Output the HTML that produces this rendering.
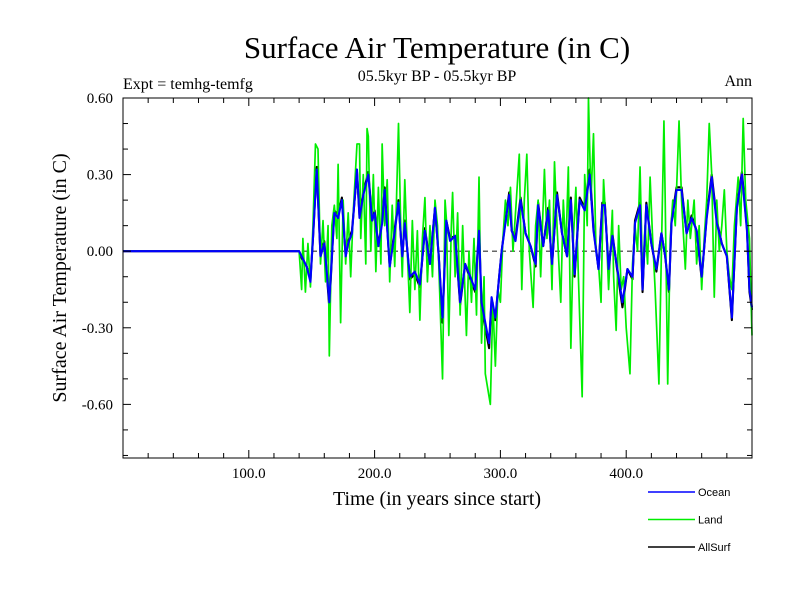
<!DOCTYPE html>
<html><head><meta charset="utf-8"><style>
body{margin:0;background:#fff}
svg{display:block}
.serif{font-family:"Liberation Serif",serif}
.sans{font-family:"Liberation Sans",sans-serif}
</style></head><body>
<svg id="chart" width="800" height="600" viewBox="0 0 800 600" xmlns="http://www.w3.org/2000/svg">
<rect width="800" height="600" fill="#fff"/>
<text class="serif" x="437" y="58" font-size="31" text-anchor="middle">Surface Air Temperature (in C)</text>
<text class="serif" x="437" y="81" font-size="16" text-anchor="middle">05.5kyr BP - 05.5kyr BP</text>
<text class="serif" x="123" y="89" font-size="16">Expt = temhg-temfg</text>
<text class="serif" x="752" y="86" font-size="16" text-anchor="end">Ann</text>
<text class="serif" font-size="20" text-anchor="middle" transform="translate(66,278) rotate(-90)">Surface Air Temperature (in C)</text>
<text class="serif" x="437" y="505" font-size="20" text-anchor="middle">Time (in years since start)</text>
<g id="plot"></g>
<g id="legend"></g>
</svg>
<script>
const yTickValues = [0.6, 0.3, 0, -0.3, -0.6];
const yTickLabels = ["0.60", "0.30", "0.00", "-0.30", "-0.60"];
const xTickValues = [100, 200, 300, 400];
const xTickLabels = ["100.0", "200.0", "300.0", "400.0"];
const oceanYears = [0,140,143,146,149,151,154,157,160,164,168,171,174,177,179,182,186,188,191,195,198,200,203,206,208,212,215,219,222,224,228,232,236,240,244,248,251,254,257,260,264,268,272,276,280,283,285,288,291,293,296,299,301,304,307,309,312,316,320,324,328,330,334,338,341,345,349,353,356,359,363,367,371,374,378,381,383,386,389,393,397,401,405,407,411,413,416,420,424,428,431,434,436,440,444,448,452,456,460,464,468,472,476,480,484,488,492,496,498,500];
const oceanValues = [0,0,-0.03,-0.06,-0.12,0.05,0.32,-0.02,0.03,-0.2,0.15,0.13,0.2,-0.02,0.03,0.07,0.32,0.13,0.22,0.3,0.12,0.15,0.02,0.11,0.24,-0.06,0.04,0.19,-0.02,0.11,-0.1,-0.08,-0.13,0.08,-0.05,0.17,-0.02,-0.26,0.12,0.04,0.06,-0.2,-0.05,-0.1,-0.15,0.08,-0.2,-0.28,-0.36,-0.18,-0.26,-0.1,0.0,0.11,0.22,0.08,0.04,0.2,0.07,0.02,-0.05,0.18,0.02,0.16,-0.05,0.22,0.07,-0.02,0.2,-0.09,0.2,0.16,0.3,0.08,-0.07,0.18,0.18,-0.07,0.06,-0.07,-0.2,-0.07,-0.1,0.11,0.18,-0.15,0.18,0.03,-0.07,0.07,-0.02,-0.15,0.11,0.24,0.24,0.07,0.13,0.08,-0.1,0.13,0.29,0.11,0.03,-0.02,-0.26,0.17,0.3,0.08,-0.15,-0.22];
const allSurfValues = [0,0,-0.04,-0.06,-0.11,0.05,0.33,-0.02,0.04,-0.22,0.16,0.14,0.21,-0.02,0.04,0.08,0.31,0.14,0.23,0.31,0.12,0.16,0.02,0.12,0.25,-0.06,0.05,0.2,-0.03,0.12,-0.11,-0.09,-0.14,0.09,-0.05,0.17,-0.02,-0.28,0.12,0.05,0.06,-0.21,-0.05,-0.11,-0.16,0.09,-0.22,-0.3,-0.38,-0.19,-0.27,-0.1,0.0,0.12,0.23,0.08,0.05,0.21,0.07,0.02,-0.06,0.19,0.02,0.17,-0.06,0.23,0.07,-0.02,0.21,-0.1,0.21,0.17,0.32,0.09,-0.07,0.19,0.19,-0.07,0.07,-0.08,-0.22,-0.07,-0.11,0.12,0.19,-0.16,0.19,0.03,-0.08,0.07,-0.02,-0.16,0.12,0.25,0.25,0.07,0.14,0.08,-0.11,0.14,0.3,0.12,0.03,-0.02,-0.27,0.18,0.31,0.09,-0.16,-0.23];
const landYears = [0,140,142,143,145,147,149,151,153,155,157,159,161,163,164,166,168,170,171,173,175,177,179,181,183,186,188,189,191,193,194,195,197,199,201,203,205,206,208,210,212,214,216,219,221,222,224,226,228,230,232,234,236,238,240,242,244,246,248,250,252,254,256,257,259,261,262,264,266,268,270,273,275,277,279,281,283,285,287,288,290,292,294,296,298,300,302,304,306,308,310,312,315,317,319,321,323,326,328,330,332,335,337,339,341,343,345,348,350,352,354,356,358,360,362,365,367,369,370,372,374,376,378,380,382,384,386,389,390,392,394,396,398,400,403,405,407,409,411,413,415,417,419,421,423,426,428,430,431,433,435,437,439,442,444,447,449,451,454,456,458,460,462,464,466,468,470,472,474,476,478,480,482,484,486,489,491,493,495,497,498,500];
const landValues = [0,0,-0.15,0.05,-0.16,0.03,-0.14,0.1,0.42,0.4,-0.05,0.12,-0.12,0.1,-0.41,0.1,0.18,0.05,0.34,-0.28,0.2,-0.05,0.15,-0.1,0.15,0.42,0.42,0.05,0.3,-0.05,0.48,0.45,0.0,0.3,-0.08,0.25,-0.05,0.42,0.1,0.28,-0.12,0.18,-0.06,0.5,0.05,-0.1,0.28,0.0,-0.24,0.12,-0.15,0.08,-0.27,0.05,0.21,-0.12,0.1,-0.1,0.2,0.1,-0.2,-0.5,0.2,0.13,-0.33,0.1,0.23,-0.1,0.15,-0.25,0.1,-0.33,0.0,-0.2,0.05,-0.25,0.29,-0.36,-0.1,-0.48,-0.54,-0.6,-0.2,-0.45,-0.15,-0.2,0.05,0.2,0.1,0.25,0.0,0.15,0.38,-0.15,0.2,0.38,0.0,-0.22,0.1,0.2,-0.1,0.32,0.05,0.2,-0.15,0.35,0.1,-0.2,0.2,0.0,0.33,-0.38,0.05,0.25,-0.1,-0.57,0.3,0.1,0.6,0.2,0.46,0.0,-0.05,-0.2,0.28,0.1,-0.15,0.16,-0.1,-0.31,0.1,-0.15,-0.1,-0.3,-0.48,-0.05,0.1,0.0,0.33,-0.1,0.1,-0.05,0.29,0.05,-0.15,-0.52,0.0,0.51,0.2,-0.52,0.05,0.2,0.1,0.51,0.2,-0.07,0.2,0.05,0.2,-0.05,0.1,-0.15,0.05,0.2,0.5,0.3,-0.18,0.2,0.0,0.1,0.24,0.0,-0.1,-0.15,0.1,0.29,0.1,0.52,0.2,0.1,0.05,-0.33];

const NS = "http://www.w3.org/2000/svg";
const L = 123, R = 752, T = 98, B = 458;
const xMin = 0, xMax = 500, yMin = -0.81, yMax = 0.6;
function xs(v){ return L + (v - xMin) / (xMax - xMin) * (R - L); }
function ys(v){ return T + (yMax - v) / (yMax - yMin) * (B - T); }
const plot = document.getElementById('plot');
const legend = document.getElementById('legend');
function mk(tag, attrs, parent){
  const e = document.createElementNS(NS, tag);
  for (const k in attrs) e.setAttribute(k, attrs[k]);
  parent.appendChild(e);
  return e;
}
function series(years, vals, color, w, name){
  let d = '';
  for (let i = 0; i < years.length; i++) d += (i ? 'L' : 'M') + xs(years[i]).toFixed(2) + ' ' + ys(vals[i]).toFixed(2);
  const p = mk('path', {d: d, fill: 'none', stroke: color, 'stroke-width': w, 'stroke-linejoin': 'round'}, plot);
  
  
}
const z = mk('line', {x1: L, x2: R, y1: ys(0), y2: ys(0), stroke: '#333', 'stroke-width': 1.2, 'stroke-dasharray': '5,4'}, plot);


series(oceanYears, allSurfValues, '#000', 2.1, 'allsurf-line');
series(landYears, landValues, '#00ee00', 1.7, 'land-line');
series(oceanYears, oceanValues, '#0000ff', 2.1, 'ocean-line');
const fr = mk('rect', {x: L, y: T, width: R - L, height: B - T, fill: 'none', stroke: '#000', 'stroke-width': 1}, plot);


for (let v = 20; v < 500; v += 20){
  const major = v % 100 === 0;
  const len = major ? 8 : 5;
  const x = xs(v);
  const t1 = mk('line', {x1: x, x2: x, y1: B, y2: B - len, stroke: '#000', 'stroke-width': 1}, plot);
  
  
  const t2 = mk('line', {x1: x, x2: x, y1: T, y2: T + len, stroke: '#000', 'stroke-width': 1}, plot);
  
  
}
xTickValues.forEach((v, i) => {
  const t = mk('text', {x: xs(v), y: 478, 'font-size': 15, 'text-anchor': 'middle', 'font-family': '"Liberation Serif", serif'}, plot);
  t.textContent = xTickLabels[i];
  
  
});
for (let k = -8; k <= 6; k++){
  const v = k / 10;
  const major = k % 3 === 0;
  const len = major ? 8 : 5;
  const y = ys(v);
  const t1 = mk('line', {x1: L, x2: L + len, y1: y, y2: y, stroke: '#000', 'stroke-width': 1}, plot);
  
  
  const t2 = mk('line', {x1: R, x2: R - len, y1: y, y2: y, stroke: '#000', 'stroke-width': 1}, plot);
  
  
}
yTickValues.forEach((v, i) => {
  const t = mk('text', {x: 113, y: ys(v) + 5, 'font-size': 15, 'text-anchor': 'end', 'font-family': '"Liberation Serif", serif'}, plot);
  t.textContent = yTickLabels[i];
  
  
});
const legNames = ['Ocean', 'Land', 'AllSurf'];
const legColors = ['#0000ff', '#00ee00', '#000'];
legNames.forEach((n, i) => {
  const y = 492 + i * 27.5;
  const ln = mk('line', {x1: 648, x2: 695, y1: y, y2: y, stroke: legColors[i], 'stroke-width': 1.5}, legend);
  
  
  const t = mk('text', {x: 698, y: y + 4, 'font-size': 11, 'font-family': '"Liberation Sans", sans-serif'}, legend);
  t.textContent = n;
  
  
});
</script>
</body></html>
